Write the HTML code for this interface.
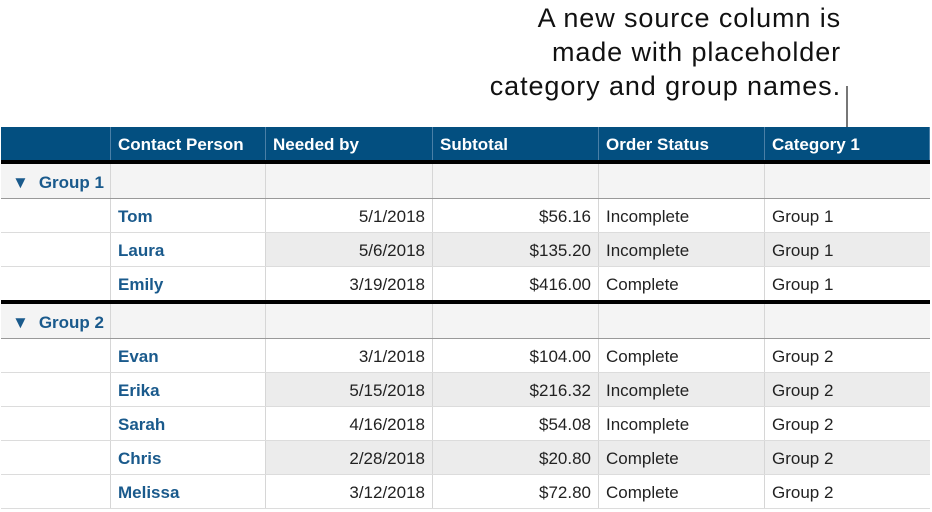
<!DOCTYPE html>
<html><head><meta charset="utf-8"><style>
body{margin:0;width:932px;height:512px;background:#fff;position:relative;overflow:hidden;font-family:"Liberation Sans",Arial,sans-serif}
.note{position:absolute;right:91px;top:1px;text-align:right;font-size:27px;letter-spacing:0.9px;line-height:34px;color:#111}
.lead{position:absolute;left:846px;top:86px;width:2px;height:41px;background:#777}
.r{position:absolute;left:1px;width:929px;display:flex;box-sizing:border-box;border-bottom:1px solid #dcdcdc}
.c{box-sizing:border-box;border-right:1px solid #d6d6d6;font-size:17px;color:#222;display:flex;align-items:center;padding:3px 7px 0;white-space:nowrap}
.c:last-child{border-right:none}
.c:nth-child(1){width:110px}.c:nth-child(2){width:155px}.c:nth-child(3){width:167px;justify-content:flex-end}.c:nth-child(4){width:166px;justify-content:flex-end}.c:nth-child(5){width:166px}.c:nth-child(6){width:165px}
.h{background:#034f80;border-bottom:none}
.h .c{color:#fff;font-weight:bold;border-right:1px solid #4a7fa6;justify-content:flex-start!important}
.g{background:#f4f4f4;border-bottom:1px solid #999}
.g .c:first-child{color:#1a5a8c;font-weight:bold}
.n{color:#1a5a8c;font-weight:bold}
.alt .c:nth-child(n+3){background:#ececec}
.thick{position:absolute;left:1px;width:929px;height:4px;background:#000}
.tri{font-size:17px;margin:0 10px 0 4px}
</style></head><body>
<div class="note">A new source column is<br>made with placeholder<br>category and group names.</div>
<div class="lead"></div>
<div class="r h" style="top:127px;height:33px"><div class="c"></div><div class="c">Contact Person</div><div class="c">Needed by</div><div class="c">Subtotal</div><div class="c">Order Status</div><div class="c">Category 1</div></div>
<div class="thick" style="top:160px"></div>
<div class="r g" style="top:164px;height:35px"><div class="c"><span class="tri">▼</span>Group 1</div><div class="c"></div><div class="c"></div><div class="c"></div><div class="c"></div><div class="c"></div></div>
<div class="r" style="top:199px;height:34px"><div class="c"></div><div class="c n">Tom</div><div class="c">5/1/2018</div><div class="c">$56.16</div><div class="c">Incomplete</div><div class="c">Group 1</div></div>
<div class="r alt" style="top:233px;height:34px"><div class="c"></div><div class="c n">Laura</div><div class="c">5/6/2018</div><div class="c">$135.20</div><div class="c">Incomplete</div><div class="c">Group 1</div></div>
<div class="r" style="top:267px;height:33px;border-bottom:none"><div class="c"></div><div class="c n">Emily</div><div class="c">3/19/2018</div><div class="c">$416.00</div><div class="c">Complete</div><div class="c">Group 1</div></div>
<div class="thick" style="top:300px"></div>
<div class="r g" style="top:304px;height:35px"><div class="c"><span class="tri">▼</span>Group 2</div><div class="c"></div><div class="c"></div><div class="c"></div><div class="c"></div><div class="c"></div></div>
<div class="r" style="top:339px;height:34px"><div class="c"></div><div class="c n">Evan</div><div class="c">3/1/2018</div><div class="c">$104.00</div><div class="c">Complete</div><div class="c">Group 2</div></div>
<div class="r alt" style="top:373px;height:34px"><div class="c"></div><div class="c n">Erika</div><div class="c">5/15/2018</div><div class="c">$216.32</div><div class="c">Incomplete</div><div class="c">Group 2</div></div>
<div class="r" style="top:407px;height:34px"><div class="c"></div><div class="c n">Sarah</div><div class="c">4/16/2018</div><div class="c">$54.08</div><div class="c">Incomplete</div><div class="c">Group 2</div></div>
<div class="r alt" style="top:441px;height:34px"><div class="c"></div><div class="c n">Chris</div><div class="c">2/28/2018</div><div class="c">$20.80</div><div class="c">Complete</div><div class="c">Group 2</div></div>
<div class="r" style="top:475px;height:34px"><div class="c"></div><div class="c n">Melissa</div><div class="c">3/12/2018</div><div class="c">$72.80</div><div class="c">Complete</div><div class="c">Group 2</div></div>
</body></html>
